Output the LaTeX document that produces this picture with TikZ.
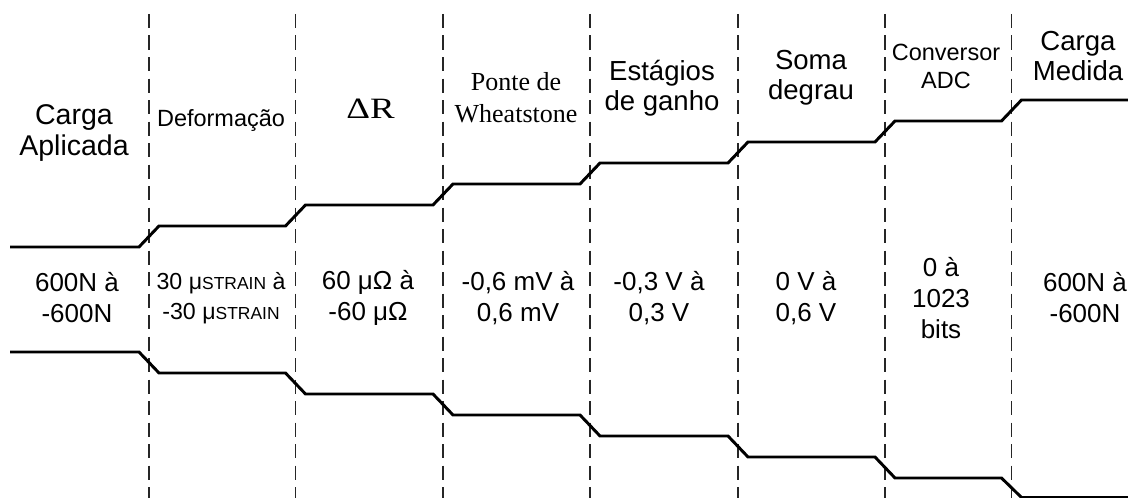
\documentclass[tikz,border=0pt]{standalone}
\usepackage{fontspec}
\setmainfont{Liberation Sans}
\newfontfamily\timesfont{Liberation Serif}
% small capitals for the strain unit
\newcommand{\ustrain}{{\fontsize{12.4}{12.4}\selectfont STRAIN}}

\begin{document}
\begin{tikzpicture}[x=0.25cm,y=0.25cm,
  stage/.style={align=center,inner sep=0pt,font=\fontsize{19.6}{21.5}\selectfont},
  stagesmall/.style={stage,font=\fontsize{16.7}{20}\selectfont},
  stageserif/.style={stage,font=\timesfont\fontsize{18.5}{23}\selectfont},
  faixa/.style={stage,font=\fontsize{18.5}{22}\selectfont},
  divider/.style={black!85,line width=1.4pt,dash pattern=on 10pt off 5.3pt},
  signal/.style={line width=2.1pt,line join=miter}]
  \useasboundingbox (0,0) rectangle (112.8,49.8);

  % Stage dividers
  \draw[divider] (14.9,48.4) -- (14.9,0);
  \draw[divider] (29.55,48.4) -- (29.55,0);
  \draw[divider] (44.3,48.4) -- (44.3,0);
  \draw[divider] (59.0,48.4) -- (59.0,0);
  \draw[divider] (73.8,48.4) -- (73.8,0);
  \draw[divider] (88.5,48.4) -- (88.5,0);
  \draw[divider] (101.15,48.4) -- (101.15,0);

  % Upper bound of the signal
  \draw[signal] (1,25.1) -- (13.9,25.1) -- (15.9,27.2) -- (28.55,27.2) -- (30.55,29.3)
    -- (43.3,29.3) -- (45.3,31.4) -- (58,31.4) -- (60,33.5) -- (72.8,33.5) -- (74.8,35.6)
    -- (87.5,35.6) -- (89.5,37.7) -- (100.15,37.7) -- (102.15,39.8) -- (113,39.8);

  % Lower bound of the signal
  \draw[signal] (1,14.6) -- (13.9,14.6) -- (15.9,12.5) -- (28.55,12.5) -- (30.55,10.4)
    -- (43.3,10.4) -- (45.3,8.3) -- (58,8.3) -- (60,6.2) -- (72.8,6.2) -- (74.8,4.1)
    -- (87.5,4.1) -- (89.5,2.0) -- (100.15,2.0) -- (102.15,0.05) -- (113,0.05);

  % Stage names
  \node[stage,font=\fontsize{20.3}{21.5}\selectfont] (aplicada) at (7.4,36.5) {Carga\\Aplicada};
  \node[stagesmall] (deform) at (22.1,37.7) {Deformação};
  \node[stageserif,font=\timesfont\fontsize{21}{24}\selectfont] (deltar) at (37.05,38.9) {\scalebox{1.25}[1]{ΔR}};
  \node[stageserif] (ponte) at (51.6,40.0) {Ponte de\\Wheatstone};
  \node[stage] (ganho) at (66.2,41.0) {Estágios\\de ganho};
  \node[stage] (soma) at (81.1,42.0) {Soma\\degrau};
  \node[stagesmall] (adc) at (94.6,43.2) {Conversor\\ADC};
  \node[stage] (medida) at (107.8,44.2) {Carga\\Medida};

  % Ranges in each stage
  \node[faixa] (faixaN) at (7.7,20.0) {600N à\\-600N};
  \node[faixa,font=\fontsize{16.5}{21.3}\selectfont] (faixaS) at (22.1,20.0) {30 μ\ustrain{} à\\-30 μ\ustrain};
  \node[faixa] (faixaR) at (36.8,20.0) {60 μΩ à\\-60 μΩ};
  \node[faixa] (faixamV) at (51.8,20.0) {-0,6 mV à\\0,6 mV};
  \node[faixa] (faixaG) at (65.9,20.0) {-0,3 V à\\0,3 V};
  \node[faixa] (faixaV) at (80.6,20.0) {0 V à\\0,6 V};
  \node[faixa] (faixaB) at (94.1,20.0) {0 à\\1023\\bits};
  \node[faixa] (faixaM) at (108.5,20.0) {600N à\\-600N};
\end{tikzpicture}
\end{document}
